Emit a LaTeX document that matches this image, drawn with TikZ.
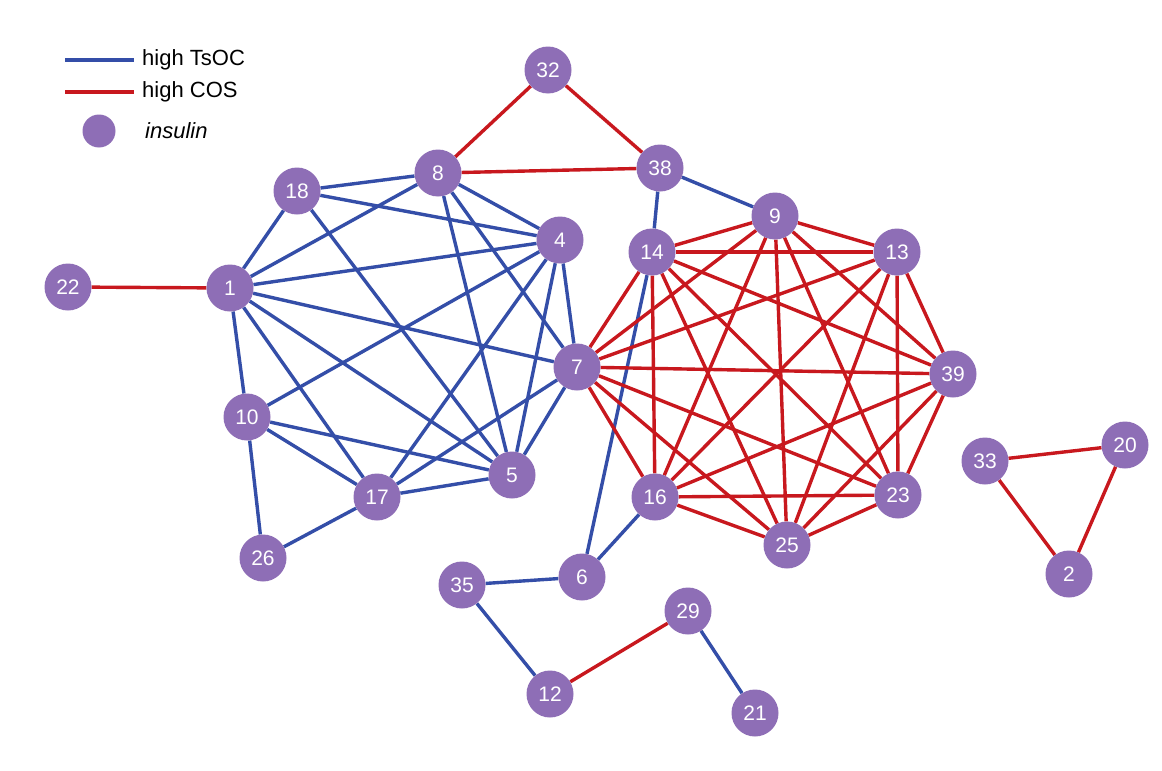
\documentclass[tikz,border=0pt]{standalone}
\usepackage{fontspec}
\setmainfont{Liberation Sans}
\usetikzlibrary{backgrounds}
\definecolor{nodepurple}{RGB}{142,110,182}
\definecolor{edgeblue}{RGB}{52,78,168}
\definecolor{edgered}{RGB}{200,24,30}
\tikzset{
  gene/.style={circle, fill=nodepurple, draw=none, minimum size=47pt, inner sep=0pt,
    text=white, font=\fontsize{21}{21}\selectfont},
  tsoc/.style={draw=edgeblue, line width=3.4pt},
  cos/.style={draw=edgered, line width=3.4pt},
  legtext/.style={anchor=west, font=\fontsize{22}{22}\selectfont, text=black, inner sep=0pt}
}
\begin{document}
\begin{tikzpicture}[x=1pt,y=-1pt]
\useasboundingbox (0,0) rectangle (1162,771);

% legend
\coordinate (lb1) at (65,60);  \coordinate (lb2) at (134,60);
\coordinate (lr1) at (65,92);  \coordinate (lr2) at (134,92);
\draw[tsoc] (lb1) -- (lb2);
\draw[cos] (lr1) -- (lr2);
\node[legtext] (ltsoc) at (142,60) {high TsOC};
\node[legtext] (lcos) at (142,92) {high COS};
\node[circle, fill=nodepurple, minimum size=33pt, inner sep=0pt] (lins) at (99,131) {};
\node[legtext] (linsulin) at (145,131) {\itshape insulin};

% genes
\node[gene] (n32) at (548,70) {32};
\node[gene] (n8)  at (438,173) {8};
\node[gene] (n38) at (660,168) {38};
\node[gene] (n18) at (297,191) {18};
\node[gene] (n4)  at (560,240) {4};
\node[gene] (n9)  at (775,216) {9};
\node[gene] (n14) at (652,252) {14};
\node[gene] (n13) at (897,252) {13};
\node[gene] (n22) at (68,287) {22};
\node[gene] (n1)  at (230,288) {1};
\node[gene] (n7)  at (577,367) {7};
\node[gene] (n39) at (953,374) {39};
\node[gene] (n10) at (247,417) {10};
\node[gene] (n33) at (985,461) {33};
\node[gene] (n20) at (1125,445) {20};
\node[gene] (n5)  at (512,475) {5};
\node[gene] (n17) at (377,497) {17};
\node[gene] (n16) at (655,497) {16};
\node[gene] (n23) at (898,495) {23};
\node[gene] (n25) at (787,545) {25};
\node[gene] (n26) at (263,558) {26};
\node[gene] (n6)  at (582,577) {6};
\node[gene] (n35) at (462,585) {35};
\node[gene] (n2)  at (1069,574) {2};
\node[gene] (n29) at (688,611) {29};
\node[gene] (n12) at (550,694) {12};
\node[gene] (n21) at (755,713) {21};

\begin{pgfonlayer}{background}
\fill[white] (0,0) rectangle (1162,771);
% high TsOC links
\foreach \a/\b in {18/8, 18/4, 18/1, 18/5,
                   8/1, 8/4, 8/5, 8/7,
                   1/4, 1/7, 1/5, 1/17, 1/10,
                   4/10, 4/17, 4/5, 4/7,
                   10/5, 10/17, 10/26,
                   17/7, 17/5, 17/26,
                   5/7,
                   38/9, 38/14, 14/6, 16/6, 6/35, 35/12, 29/21}
  \draw[tsoc] (n\a) -- (n\b);
% high COS links
\foreach \a/\b in {7/14, 7/9, 7/13, 7/39, 7/23, 7/25, 7/16,
                   14/9, 14/13, 14/39, 14/23, 14/25, 14/16,
                   9/13, 9/39, 9/23, 9/25, 9/16,
                   13/39, 13/23, 13/25, 13/16,
                   39/23, 39/25, 39/16,
                   23/25, 23/16,
                   25/16,
                   8/32, 32/38, 8/38, 22/1, 12/29,
                   33/20, 33/2, 20/2}
  \draw[cos] (n\a) -- (n\b);
\end{pgfonlayer}
\end{tikzpicture}
\end{document}
